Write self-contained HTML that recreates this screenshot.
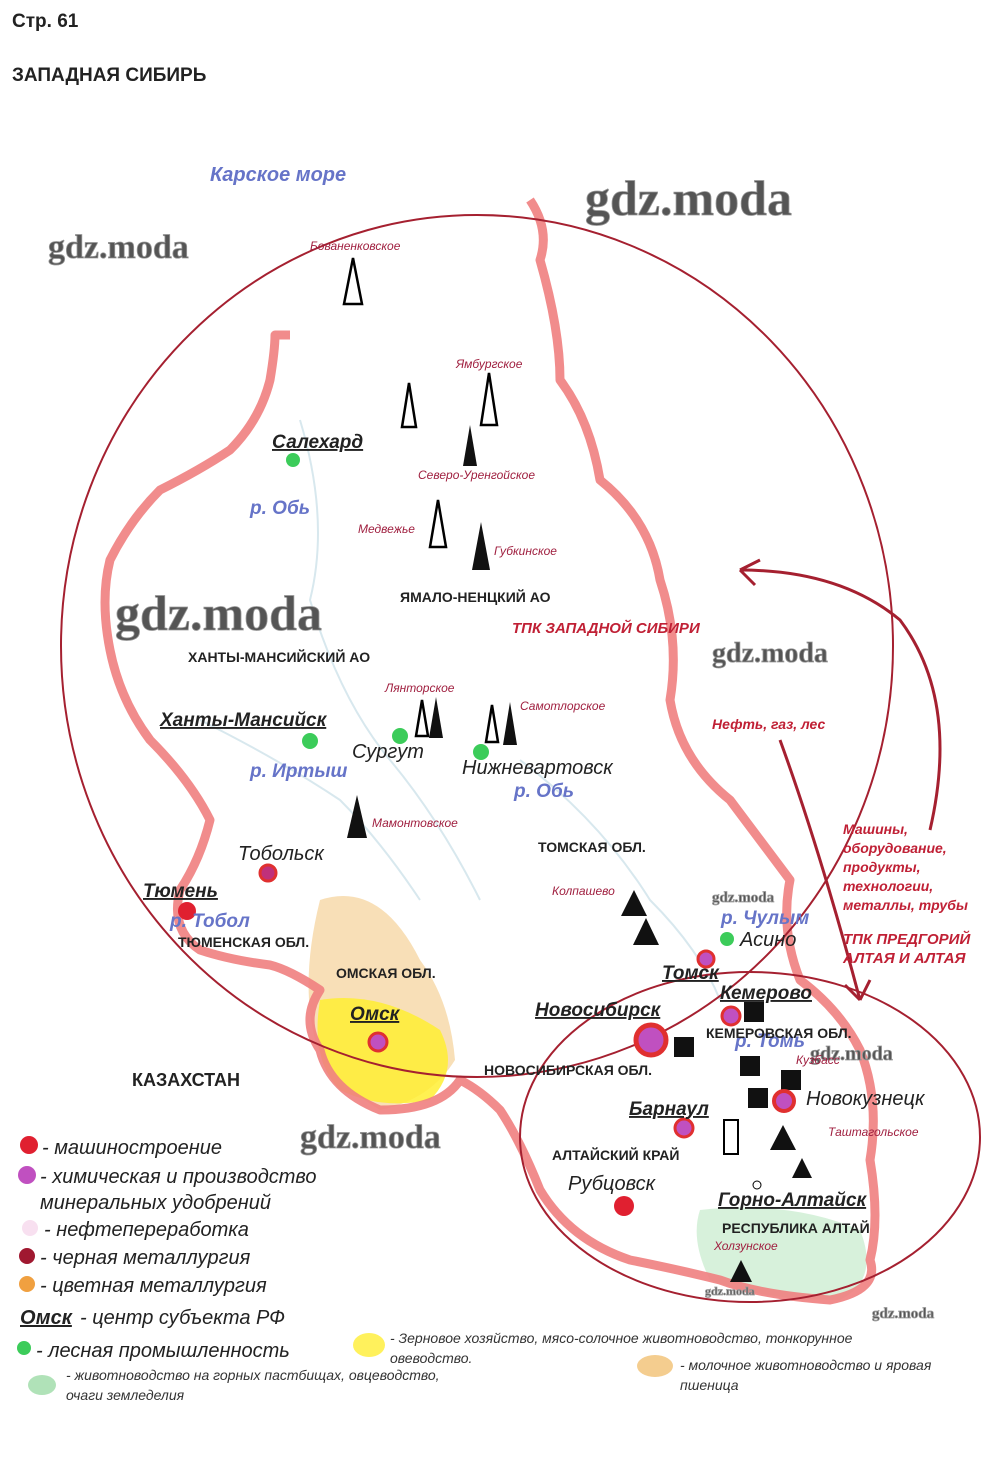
<!DOCTYPE html>
<html><head><meta charset="utf-8"><style>
body{margin:0;background:#fff;}
svg text{font-family:"Liberation Sans",sans-serif;}
svg text.wm{font-family:"Liberation Serif",serif;}
</style></head><body>
<svg width="1000" height="1452" viewBox="0 0 1000 1452" xmlns="http://www.w3.org/2000/svg">
<rect width="1000" height="1452" fill="#fff"/>
<text x="12" y="27" font-size="19" font-weight="bold" fill="#222">Стр. 61</text>
<text x="12" y="81" font-size="19" font-weight="bold" fill="#222">ЗАПАДНАЯ СИБИРЬ</text>
<text x="210" y="181" font-size="20" font-weight="bold" font-style="italic" fill="#6674c8">Карское море</text>
<g stroke="#d8e8ee" stroke-width="2" fill="none">
<path d="M300 420 Q330 520 310 600 Q340 700 390 760 Q440 820 480 900"/>
<path d="M200 720 Q280 760 340 800 Q380 840 420 900"/>
<path d="M520 760 Q600 820 650 900 Q700 950 720 1000"/>
</g>
<path d="M320 900 Q380 880 420 960 Q450 1000 455 1060 Q430 1100 380 1110 Q330 1080 315 1040 Q300 980 320 900Z" fill="#f0b860" opacity="0.45"/>
<path d="M320 1000 Q380 990 440 1030 Q460 1070 430 1100 Q380 1110 340 1090 Q310 1060 320 1000Z" fill="#ffee33" opacity="0.85"/>
<path d="M700 1210 Q790 1200 860 1230 Q880 1280 840 1300 Q760 1300 710 1280 Q690 1240 700 1210Z" fill="#7ccf88" opacity="0.3"/>
<path d="M530 200 Q550 230 540 260 Q560 330 560 380 Q590 420 600 480 Q650 520 660 580 Q680 640 670 700 Q680 760 730 800 Q760 840 790 880 Q780 930 800 980 Q840 1010 860 1050 Q880 1100 870 1160 Q880 1220 870 1260 Q880 1290 830 1300 Q760 1295 720 1280 Q680 1270 630 1260 Q570 1240 540 1190 Q520 1140 500 1110 Q480 1090 460 1080 Q440 1110 380 1110 Q330 1090 320 1050 Q300 1020 320 990 Q290 970 270 965 Q230 960 200 950 Q170 930 180 890 Q200 860 210 820 Q190 780 150 740 Q120 700 110 650 Q100 600 110 560 Q130 520 160 490 Q200 470 230 450 Q260 420 270 380 Q275 350 275 335 L290 335" fill="none" stroke="#f08080" stroke-width="9" stroke-linejoin="round" opacity="0.9"/>
<ellipse cx="477" cy="646" rx="416" ry="431" fill="none" stroke="#a52030" stroke-width="2"/>
<ellipse cx="750" cy="1137" rx="230" ry="165" fill="none" stroke="#a52030" stroke-width="2"/>
<g stroke="#a52030" stroke-width="3" fill="none">
<path d="M930 830 Q960 700 900 620 Q840 570 740 570"/>
<path d="M740 570 L760 560 M740 570 L755 585"/>
<path d="M780 740 Q820 850 860 1000"/>
<path d="M860 1000 L845 985 M860 1000 L870 980"/>
</g>
<g class="wm" font-weight="bold" fill="#555" stroke="#999" stroke-width="0.8">
<text class="wm" x="585" y="215" font-size="50">gdz.moda</text>
<text class="wm" x="48" y="258" font-size="34">gdz.moda</text>
<text class="wm" x="115" y="630" font-size="50">gdz.moda</text>
<text class="wm" x="712" y="662" font-size="28">gdz.moda</text>
<text class="wm" x="300" y="1148" font-size="34">gdz.moda</text>
<text class="wm" x="712" y="902" font-size="15">gdz.moda</text>
<text class="wm" x="810" y="1060" font-size="20">gdz.moda</text>
<text class="wm" x="872" y="1318" font-size="15">gdz.moda</text>
<text class="wm" x="705" y="1295" font-size="12">gdz.moda</text>
</g>
<g stroke="#000" stroke-width="2.5" fill="none">
<polygon points="353,258 344,304 362,304"/>
<polygon points="409,383 402,427 416,427"/>
<polygon points="489,373 481,425 497,425"/>
<polygon points="438,500 430,547 446,547"/>
<polygon points="422,700 416,736 428,736"/>
<polygon points="492,705 486,742 498,742"/>
</g>
<g fill="#111">
<polygon points="470,425 463,466 477,466"/>
<polygon points="481,522 472,570 490,570"/>
<polygon points="436,697 429,738 443,738"/>
<polygon points="510,702 503,745 517,745"/>
<polygon points="357,795 347,838 367,838"/>
<polygon points="634,890 621,916 647,916"/>
<polygon points="646,918 633,945 659,945"/>
<polygon points="783,1125 770,1150 796,1150"/>
<polygon points="802,1158 792,1178 812,1178"/>
<polygon points="741,1260 730,1282 752,1282"/>
<rect x="674" y="1037" width="20" height="20"/>
<rect x="744" y="1002" width="20" height="20"/>
<rect x="740" y="1056" width="20" height="20"/>
<rect x="781" y="1070" width="20" height="20"/>
<rect x="748" y="1088" width="20" height="20"/>
</g>
<rect x="724" y="1120" width="14" height="34" fill="none" stroke="#000" stroke-width="2"/>
<g font-size="12" font-style="italic" fill="#a02040">
<text x="310" y="250">Бованенковское</text>
<text x="456" y="368">Ямбургское</text>
<text x="418" y="479">Северо-Уренгойское</text>
<text x="358" y="533">Медвежье</text>
<text x="494" y="555">Губкинское</text>
<text x="385" y="692">Лянторское</text>
<text x="520" y="710">Самотлорское</text>
<text x="372" y="827">Мамонтовское</text>
<text x="552" y="895">Колпашево</text>
<text x="796" y="1064">Кузбасс</text>
<text x="828" y="1136">Таштагольское</text>
<text x="714" y="1250">Холзунское</text>
</g>
<g>
<circle cx="293" cy="460" r="7" fill="#3ccc5a"/>
<circle cx="310" cy="741" r="8" fill="#3ccc5a"/>
<circle cx="400" cy="736" r="8" fill="#3ccc5a"/>
<circle cx="481" cy="752" r="8" fill="#3ccc5a"/>
<circle cx="727" cy="939" r="7" fill="#3ccc5a"/>
<circle cx="268" cy="873" r="8" fill="#c0307a" stroke="#e03030" stroke-width="3"/>
<circle cx="187" cy="911" r="9" fill="#e02030"/>
<circle cx="378" cy="1042" r="9" fill="#c050c0" stroke="#e03030" stroke-width="3"/>
<circle cx="651" cy="1040" r="15" fill="#c050c0" stroke="#e03030" stroke-width="5"/>
<circle cx="706" cy="959" r="8" fill="#c050c0" stroke="#e03030" stroke-width="3"/>
<circle cx="731" cy="1016" r="9" fill="#c050c0" stroke="#e03030" stroke-width="3"/>
<circle cx="784" cy="1101" r="10" fill="#c050c0" stroke="#e03030" stroke-width="4"/>
<circle cx="684" cy="1128" r="9" fill="#c050c0" stroke="#e03030" stroke-width="3"/>
<circle cx="624" cy="1206" r="10" fill="#e02030"/>
<circle cx="757" cy="1185" r="4" fill="none" stroke="#000"/>
</g>
<g font-size="19" font-weight="bold" font-style="italic" fill="#222" text-decoration="underline">
<text x="272" y="448">Салехард</text>
<text x="160" y="726">Ханты-Мансийск</text>
<text x="143" y="897">Тюмень</text>
<text x="350" y="1020">Омск</text>
<text x="535" y="1016">Новосибирск</text>
<text x="720" y="999">Кемерово</text>
<text x="662" y="979">Томск</text>
<text x="629" y="1115">Барнаул</text>
<text x="718" y="1206">Горно-Алтайск</text>
</g>
<g font-size="20" font-style="italic" fill="#222">
<text x="352" y="758">Сургут</text>
<text x="462" y="774">Нижневартовск</text>
<text x="238" y="860">Тобольск</text>
<text x="740" y="946">Асино</text>
<text x="806" y="1105">Новокузнецк</text>
<text x="568" y="1190">Рубцовск</text>
</g>
<g font-size="19" font-weight="bold" font-style="italic" fill="#6674c8">
<text x="250" y="514">р. Обь</text>
<text x="250" y="777">р. Иртыш</text>
<text x="514" y="797">р. Обь</text>
<text x="170" y="927">р. Тобол</text>
<text x="721" y="924">р. Чулым</text>
<text x="735" y="1047">р. Томь</text>
</g>
<g font-size="14" font-weight="bold" fill="#222">
<text x="400" y="602">ЯМАЛО-НЕНЦКИЙ АО</text>
<text x="188" y="662">ХАНТЫ-МАНСИЙСКИЙ АО</text>
<text x="538" y="852">ТОМСКАЯ ОБЛ.</text>
<text x="178" y="947">ТЮМЕНСКАЯ ОБЛ.</text>
<text x="336" y="978">ОМСКАЯ ОБЛ.</text>
<text x="706" y="1038">КЕМЕРОВСКАЯ ОБЛ.</text>
<text x="484" y="1075">НОВОСИБИРСКАЯ ОБЛ.</text>
<text x="552" y="1160">АЛТАЙСКИЙ КРАЙ</text>
<text x="722" y="1233">РЕСПУБЛИКА АЛТАЙ</text>
<text x="132" y="1086" font-size="18">КАЗАХСТАН</text>
</g>
<g font-size="14" font-weight="bold" font-style="italic" fill="#c02035">
<text x="512" y="633" font-size="15">ТПК ЗАПАДНОЙ СИБИРИ</text>
<text x="712" y="729">Нефть, газ, лес</text>
<text x="843" y="834">Машины,</text>
<text x="843" y="853">оборудование,</text>
<text x="843" y="872">продукты,</text>
<text x="843" y="891">технологии,</text>
<text x="843" y="910">металлы, трубы</text>
<text x="843" y="944" font-size="15">ТПК ПРЕДГОРИЙ</text>
<text x="843" y="963" font-size="15">АЛТАЯ И АЛТАЯ</text>
</g>
<g font-size="20" font-style="italic" fill="#222">
<circle cx="29" cy="1145" r="9" fill="#e02030"/><text x="42" y="1154">- машиностроение</text>
<circle cx="27" cy="1175" r="9" fill="#c050c0"/><text x="40" y="1183">- химическая и производство</text>
<text x="40" y="1209">минеральных удобрений</text>
<circle cx="30" cy="1228" r="8" fill="#f8e0f0"/><text x="44" y="1236">- нефтепереработка</text>
<circle cx="27" cy="1256" r="8" fill="#a01830"/><text x="40" y="1264">- черная металлургия</text>
<circle cx="27" cy="1284" r="8" fill="#f0a040"/><text x="40" y="1292">- цветная металлургия</text>
<text x="20" y="1324" font-weight="bold" text-decoration="underline">Омск</text><text x="80" y="1324">- центр субъекта РФ</text>
<circle cx="24" cy="1348" r="7" fill="#3ccc5a"/><text x="36" y="1357">- лесная промышленность</text>
</g>
<g font-size="14" font-style="italic" fill="#333">
<ellipse cx="369" cy="1345" rx="16" ry="12" fill="#ffee33" opacity="0.8"/>
<text x="390" y="1343">- Зерновое хозяйство, мясо-солочное животноводство, тонкорунное</text>
<text x="390" y="1363">овеводство.</text>
<ellipse cx="655" cy="1366" rx="18" ry="11" fill="#f0b860" opacity="0.7"/>
<text x="680" y="1370">- молочное животноводство и яровая</text>
<text x="680" y="1390">пшеница</text>
<ellipse cx="42" cy="1385" rx="14" ry="10" fill="#7ccf88" opacity="0.6"/>
<text x="66" y="1380">- животноводство на горных пастбищах, овцеводство,</text>
<text x="66" y="1400">очаги земледелия</text>
</g>
</svg>
</body></html>
